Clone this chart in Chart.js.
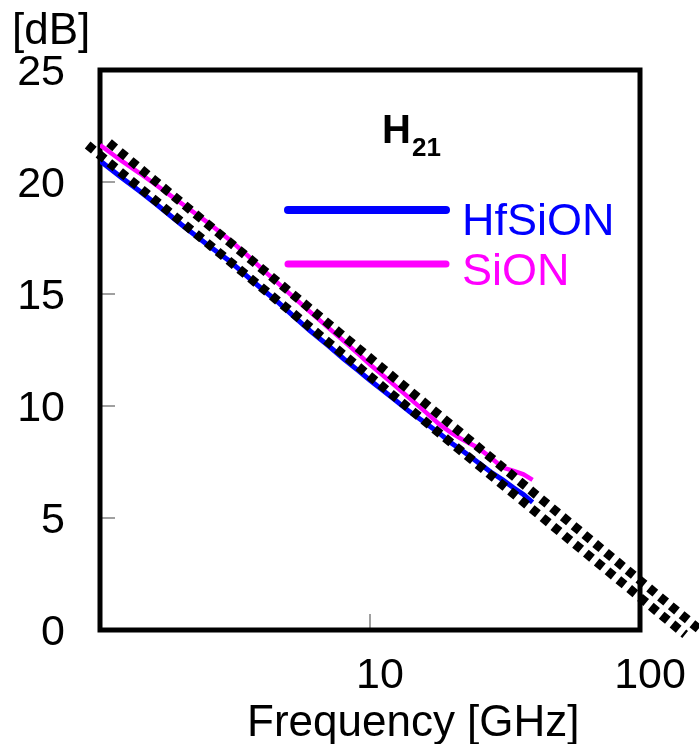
<!DOCTYPE html>
<html>
<head>
<meta charset="utf-8">
<script src="https://cdn.jsdelivr.net/npm/chart.js@4.4.1/dist/chart.umd.min.js"></script>
<style>
  body { margin: 0; background: #fff; }
  canvas { display: block; }
</style>
</head>
<body>
<canvas id="h21Chart" width="699" height="744"></canvas>
<script>
// measured curves (frequency in GHz, gain in dB)
const freq = [1, 1.2, 1.4, 1.6, 1.8, 2, 2.5, 3, 3.5, 4, 4.5, 5, 6, 7, 8, 9, 10, 12, 14, 16, 18, 20, 22, 25, 28, 31, 34, 37, 40];
const hfsion = [20.95, 20.2, 19.6, 19.05, 18.55, 18.1, 17.2, 16.5, 15.8, 15.2, 14.7, 14.2, 13.35, 12.7, 12.1, 11.6, 11.15, 10.4, 9.75, 9.25, 8.8, 8.35, 8.0, 7.5, 7.05, 6.7, 6.35, 6.05, 5.7];
const sion = [21.65, 20.95, 20.4, 19.9, 19.45, 19.05, 18.2, 17.45, 16.75, 16.1, 15.55, 15.05, 14.2, 13.5, 12.9, 12.35, 11.85, 11.05, 10.35, 9.75, 9.2, 8.8, 8.5, 8.15, 7.7, 7.25, 7.1, 6.95, 6.7];

// -10 dB/dec extrapolation lines
const fitUpperF = [1.08, 165];
const fitUpper = [21.75, 0.05];
const fitLowerF = [0.9, 147];
const fitLower = [21.65, -0.2];

const xTicks = [10, 100];
const yTicks = [0, 5, 10, 15, 20, 25];

const FONT = '"Liberation Sans", Arial, sans-serif';

function pts(xs, ys) {
    return xs.map((x, i) => ({ x: x, y: ys[i] }));
}

// frame, inner tick marks and text labels
const decorations = {
    id: 'decorations',
    beforeDatasetsDraw(chart) {
        const ctx = chart.ctx;
        const a = chart.chartArea;
        const xs = chart.scales.x;
        const ys = chart.scales.y;
        ctx.save();
        ctx.strokeStyle = '#808080';
        ctx.lineWidth = 1.5;
        yTicks.slice(1, -1).forEach(v => {
            const py = ys.getPixelForValue(v);
            ctx.beginPath();
            ctx.moveTo(a.left, py);
            ctx.lineTo(a.left + 15, py);
            ctx.stroke();
        });
        const px = xs.getPixelForValue(10);
        ctx.beginPath();
        ctx.moveTo(px, a.bottom);
        ctx.lineTo(px, a.bottom - 16);
        ctx.stroke();

        ctx.strokeStyle = '#000';
        ctx.lineWidth = 5;
        ctx.strokeRect(a.left, a.top, a.right - a.left, a.bottom - a.top);
        ctx.restore();
    },
    afterDatasetsDraw(chart) {
        const ctx = chart.ctx;
        ctx.save();
        ctx.fillStyle = '#000';
        ctx.textBaseline = 'alphabetic';
        ctx.textAlign = 'left';
        ctx.font = '44px ' + FONT;
        ctx.fillText('[dB]', 12, 44);
        ctx.fillText('Frequency [GHz]', 247, 736);

        ctx.font = 'bold 40px ' + FONT;
        ctx.fillText('H', 382, 143);
        ctx.font = 'bold 26px ' + FONT;
        ctx.fillText('21', 412, 156);

        // legend
        ctx.lineCap = 'round';
        ctx.strokeStyle = '#0000ff';
        ctx.lineWidth = 8;
        ctx.beginPath();
        ctx.moveTo(288, 210);
        ctx.lineTo(446, 210);
        ctx.stroke();
        ctx.strokeStyle = '#ff00ff';
        ctx.lineWidth = 7;
        ctx.beginPath();
        ctx.moveTo(288, 264);
        ctx.lineTo(446, 264);
        ctx.stroke();

        ctx.font = '45px ' + FONT;
        ctx.fillStyle = '#0000ff';
        ctx.fillText('HfSiON', 462, 235);
        ctx.fillStyle = '#ff00ff';
        ctx.fillText('SiON', 462, 285);
        ctx.restore();
    }
};

const ctx = document.getElementById('h21Chart').getContext('2d');
const h21Chart = new Chart(ctx, {
    type: 'line',
    data: {
        datasets: [
            {
                label: 'fit upper',
                data: pts(fitUpperF, fitUpper),
                borderColor: '#000',
                borderWidth: 9,
                borderDash: [8, 6],
                borderCapStyle: 'butt',
                pointRadius: 0,
                clip: false,
                order: 0
            },
            {
                label: 'fit lower',
                data: pts(fitLowerF, fitLower),
                borderColor: '#000',
                borderWidth: 9,
                borderDash: [8, 6],
                borderCapStyle: 'butt',
                pointRadius: 0,
                clip: false,
                order: 0
            },
            {
                label: 'HfSiON',
                data: pts(freq, hfsion),
                borderColor: '#0000ff',
                borderWidth: 5,
                pointRadius: 0,
                order: 1
            },
            {
                label: 'SiON',
                data: pts(freq, sion),
                borderColor: '#ff00ff',
                borderWidth: 4.5,
                pointRadius: 0,
                order: 1
            }
        ]
    },
    options: {
        responsive: false,
        animation: false,
        devicePixelRatio: 1,
        layout: { padding: { top: 70, right: 59, left: 0, bottom: 0 } },
        plugins: {
            legend: { display: false },
            tooltip: { enabled: false }
        },
        scales: {
            x: {
                type: 'logarithmic',
                min: 1,
                max: 100,
                grid: { display: false, drawTicks: false },
                border: { display: false },
                afterBuildTicks: s => { s.ticks = xTicks.map(v => ({ value: v })); },
                afterFit: s => { s.height = 114; },
                ticks: {
                    autoSkip: false,
                    maxRotation: 0,
                    padding: 20,
                    labelOffset: 10,
                    color: '#000',
                    font: { family: FONT, size: 43 },
                    callback: v => String(v)
                }
            },
            y: {
                min: 0,
                max: 25,
                grid: { display: false, drawTicks: false },
                border: { display: false },
                afterBuildTicks: s => { s.ticks = yTicks.map(v => ({ value: v })); },
                afterFit: s => { s.width = 100; },
                ticks: {
                    padding: 35,
                    labelOffset: 3,
                    color: '#000',
                    font: { family: FONT, size: 43 }
                }
            }
        }
    },
    plugins: [decorations]
});
</script>
</body>
</html>
